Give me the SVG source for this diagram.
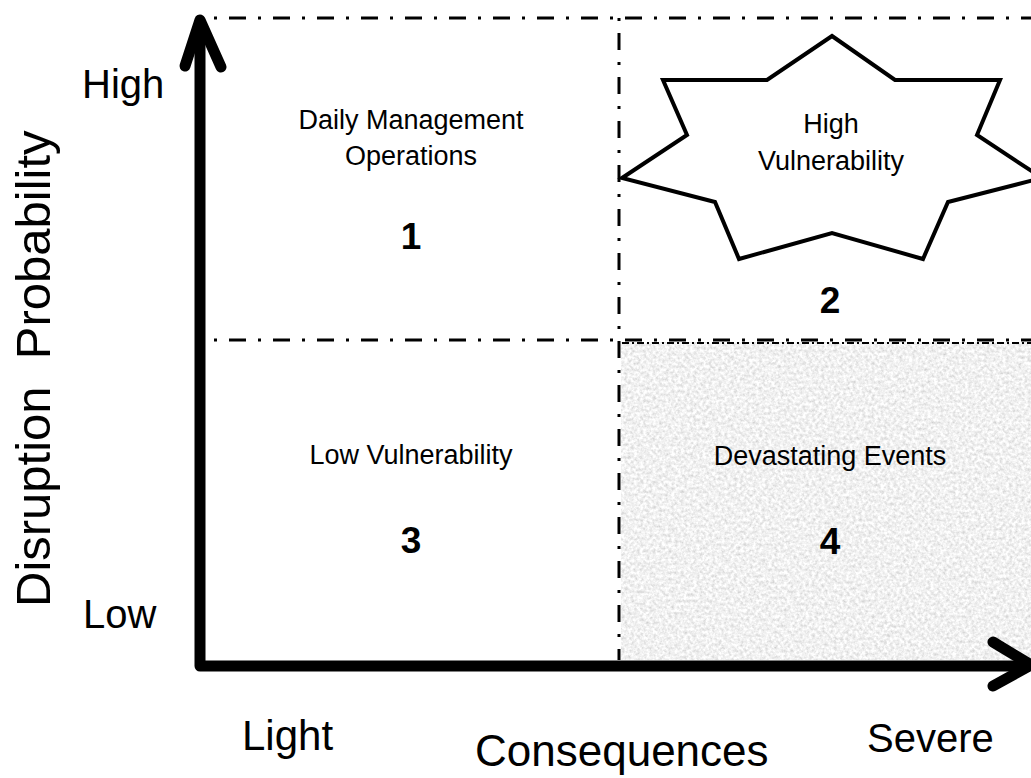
<svg xmlns="http://www.w3.org/2000/svg" width="1031" height="778" viewBox="0 0 1031 778">
<style>
text { font-family: "Liberation Sans", Arial, sans-serif; fill: #000; }
.axis-label { font-size: 40px; }
.quad { font-size: 27px; text-anchor: middle; }
.num { font-size: 37px; font-weight: bold; text-anchor: middle; }
.grid { stroke: #000; stroke-width: 3; fill: none; stroke-dasharray: 3 12 17 12; }
.axis { stroke: #000; stroke-width: 11; fill: none; stroke-linecap: round; stroke-linejoin: round; }
</style>
<defs>
<filter id="granite" x="0" y="0" width="100%" height="100%">
<feTurbulence type="fractalNoise" baseFrequency="0.32" numOctaves="3" seed="7" result="n"/>
<feColorMatrix in="n" type="matrix" values="0.6 0 0 0 0.58  0.6 0 0 0 0.58  0.6 0 0 0 0.58  0 0 0 0 1" result="g"/>
<feComposite in="g" in2="SourceGraphic" operator="in"/>
</filter>
</defs>
<rect width="1031" height="778" fill="#fff"/>

<g id="quadrant-4-bg">
<rect x="621" y="342" width="410" height="318" fill="#e2e2e2" filter="url(#granite)"/>
</g>

<g id="grid-lines">
<line class="grid" x1="214" y1="18" x2="1031" y2="18"/>
<line class="grid" x1="214" y1="340" x2="1031" y2="340"/>
<line x1="622" y1="343" x2="1031" y2="343" stroke="#000" stroke-width="2" stroke-dasharray="7 3 2 3"/>
<line class="grid" x1="619" y1="18" x2="619" y2="660"/>
</g>

<g id="node-star">
<polygon points="832,36 895,80 1000,80 977,135 1042,178 948,202 923,259 832,233 739,259 715,202 622,178 687,135 663,80 767,80" fill="#fff" stroke="#000" stroke-width="4" stroke-linejoin="miter"/>
<text class="quad" x="831" y="133">High</text>
<text class="quad" x="831" y="170">Vulnerability</text>
</g>

<g id="node-q1">
<text class="quad" x="411" y="129">Daily Management</text>
<text class="quad" x="411" y="165">Operations</text>
<text class="num" x="411" y="249">1</text>
</g>
<g id="node-q2">
<text class="num" x="830" y="313">2</text>
</g>
<g id="node-q3">
<text class="quad" x="411" y="464">Low Vulnerability</text>
<text class="num" x="411" y="553">3</text>
</g>
<g id="node-q4">
<text class="quad" x="830" y="465">Devastating Events</text>
<text class="num" x="830" y="554">4</text>
</g>

<g id="connectors">
<polyline class="axis" points="200,22 200,666 1026,666" stroke-linecap="butt" stroke-linejoin="miter"/>
<polyline class="axis" points="185,66 200,20 221,67"/>
<polyline class="axis" points="993,642 1031,665 993,686"/>
</g>

<g id="labels">
<text class="axis-label" x="82" y="98">High</text>
<text class="axis-label" x="83" y="628">Low</text>
<text font-size="49" transform="translate(50,607) rotate(-90)" style="white-space:pre">Disruption  Probability</text>
<text font-size="42" x="242" y="750">Light</text>
<text font-size="44" x="475" y="766">Consequences</text>
<text font-size="40" x="867" y="752">Severe</text>
</g>
</svg>
